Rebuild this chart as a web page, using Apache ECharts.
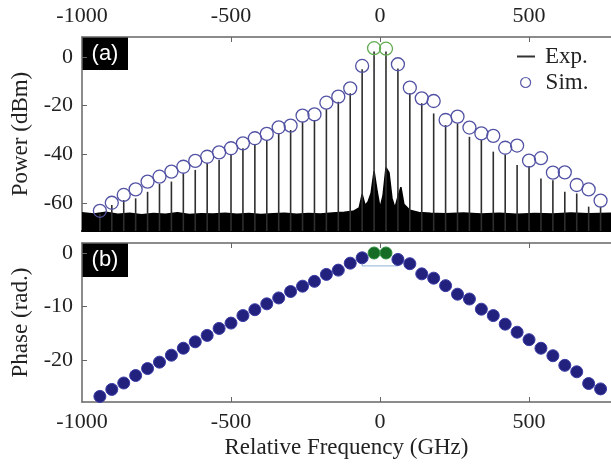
<!DOCTYPE html>
<html>
<head>
<meta charset="utf-8">
<script src="https://cdn.jsdelivr.net/npm/echarts@6/dist/echarts.min.js"></script>
<style>
html,body{margin:0;padding:0;background:#fff;}
#c{width:611px;height:464px;}
</style>
</head>
<body>
<div id="c"></div>
<script>
// ---- data ----
const freqs = [-940,-900,-860,-820,-780,-740,-700,-660,-620,-580,-540,-500,-460,-420,-380,-340,-300,-260,-220,-180,-140,-100,-60,-20,
               20,60,100,140,180,220,260,300,340,380,420,460,500,540,580,620,660,700,740];
const expPower = [-64.5,-60.8,-58.8,-58.1,-55.4,-52.2,-51.2,-47.8,-46.4,-43.7,-42.3,-39.9,-37.5,-36.2,-34.1,-31.4,-30.0,-26.6,-25.9,-21.4,-18.4,-14.9,-5.1,2.2,
                  2.2,-4.7,-14.9,-19.0,-23.2,-28.0,-27.3,-32.8,-34.1,-38.9,-40.3,-44.4,-44.8,-49.9,-50.6,-55.4,-56.1,-61.5,-61.5];
const simPower = [-63.2,-59.9,-56.7,-54.4,-51.2,-49.2,-47.1,-45.1,-42.7,-41.0,-39.2,-37.5,-35.5,-33.4,-31.6,-28.9,-28.2,-24.1,-23.6,-18.8,-16.3,-12.9,-3.7,3.6,
                  3.4,-3.0,-12.6,-17.0,-18.1,-25.9,-24.5,-29.0,-31.4,-32.4,-37.3,-36.4,-42.6,-41.6,-47.5,-47.4,-52.6,-54.4,-59.0];
const phase = [-26.8,-25.5,-24.3,-22.9,-21.6,-20.4,-19.1,-17.8,-16.6,-15.4,-14.1,-13.1,-11.7,-10.6,-9.5,-8.4,-7.2,-6.2,-5.3,-4.0,-3.2,-1.9,-0.9,0.0,
               0.0,-1.2,-2.0,-3.9,-4.7,-6.1,-7.7,-8.6,-10.5,-11.7,-13.3,-14.8,-16.2,-17.8,-19.2,-21.0,-22.2,-24.4,-25.4];
const centerFreqs = [-20, 20];
const noiseFreq  = [-1000,-960,-920,-880,-840,-800,-760,-720,-680,-640,-600,-560,-520,-480,-440,-400,-360,-320,-280,-240,-200,-160,-120,-90,-70,-60,-50,-40,-30,-20,-10,0,10,20,30,40,50,60,70,80,100,130,170,220,280,340,400,460,520,580,640,700,775];
const noiseLevel = [-64.0,-64.5,-63.8,-64.6,-64.2,-64.8,-64.3,-64.6,-64.0,-64.7,-64.4,-64.5,-64.2,-64.6,-64.3,-64.7,-64.4,-64.2,-64.6,-64.3,-64.5,-64.1,-63.8,-63.4,-62.0,-56.5,-61.0,-59.5,-56.0,-47.0,-55.0,-62.0,-57.0,-45.5,-47.5,-58.0,-62.0,-57.5,-53.5,-60.5,-63.0,-63.9,-64.2,-64.4,-64.1,-64.5,-64.2,-64.6,-64.3,-64.5,-64.1,-64.4,-64.2];
const xTicks = [-1000, -500, 0, 500];
const powerTicks = [0, -20, -40, -60];
const phaseTicks = [0, -10, -20];
const bracket = [[-60,-0.9],[-60,-2.4],[60,-2.4],[60,-1.2]];

// ---- build ----
const isCenter = f => centerFreqs.indexOf(f) >= 0;
const expData = freqs.map((f,i)=>[f, expPower[i]]);
const simBlue = [], simGreen = [], phBlue = [], phGreen = [];
freqs.forEach((f,i)=>{
  if (isCenter(f)) { simGreen.push([f, simPower[i]]); phGreen.push([f, phase[i]]); }
  else { simBlue.push([f, simPower[i]]); phBlue.push([f, phase[i]]); }
});
const noiseData = noiseFreq.map((f,i)=>[f, noiseLevel[i]]);

const P_MIN = -71.5, P_MAX = 8.2, PH_MIN = -27.85, PH_MAX = 1.87;
const X_MIN = -1000, X_MAX = 775;
const FONT = 'Liberation Serif';
const axisLineStyle = {color:'#666', width:1.5};
const fmt = v => String(v);
const labelStyle = {fontFamily:FONT, fontSize:22, color:'#222', formatter:fmt};

const chart = echarts.init(document.getElementById('c'), null, {renderer:'canvas'});
chart.setOption({
  animation:false,
  backgroundColor:'#fff',
  grid:[
    {left:82, top:37, width:529, height:194},
    {left:82, top:243, width:529, height:159}
  ],
  xAxis:[
    {gridIndex:0, type:'value', position:'top', min:X_MIN, max:X_MAX,
     axisLine:{show:true, onZero:false, lineStyle:axisLineStyle},
     axisTick:{show:true, inside:true, length:5, customValues:[-500,0,500], lineStyle:{color:'#666'}},
     axisLabel:{show:true, customValues:xTicks, margin:10, ...labelStyle},
     splitLine:{show:false}},
    {gridIndex:0, type:'value', position:'bottom', min:X_MIN, max:X_MAX,
     axisLine:{show:true, onZero:false, lineStyle:{color:'#000', width:2}},
     axisTick:{show:false}, axisLabel:{show:false}, splitLine:{show:false}},
    {gridIndex:1, type:'value', position:'bottom', min:X_MIN, max:X_MAX,
     name:'Relative Frequency (GHz)', nameLocation:'middle', nameGap:34,
     nameTextStyle:{fontFamily:FONT, fontSize:23, color:'#222'},
     axisLine:{show:true, onZero:false, lineStyle:axisLineStyle},
     axisTick:{show:true, inside:true, length:5, customValues:[-500,0,500], lineStyle:{color:'#666'}},
     axisLabel:{show:true, customValues:xTicks, margin:9, ...labelStyle},
     splitLine:{show:false}},
    {gridIndex:1, type:'value', position:'top', min:X_MIN, max:X_MAX,
     axisLine:{show:true, onZero:false, lineStyle:axisLineStyle},
     axisTick:{show:true, inside:true, length:5, customValues:[-500,0,500], lineStyle:{color:'#666'}},
     axisLabel:{show:false}, splitLine:{show:false}}
  ],
  yAxis:[
    {gridIndex:0, type:'value', min:P_MIN, max:P_MAX,
     name:'Power (dBm)', nameLocation:'middle', nameGap:46, nameRotate:90,
     nameTextStyle:{fontFamily:FONT, fontSize:23, color:'#222'},
     axisLine:{show:true, onZero:false, lineStyle:axisLineStyle},
     axisTick:{show:true, inside:true, length:5, customValues:powerTicks, lineStyle:{color:'#666'}},
     axisLabel:{show:true, customValues:powerTicks, margin:9, ...labelStyle},
     splitLine:{show:false}},
    {gridIndex:1, type:'value', min:PH_MIN, max:PH_MAX,
     name:'Phase (rad.)', nameLocation:'middle', nameGap:46, nameRotate:90,
     nameTextStyle:{fontFamily:FONT, fontSize:23, color:'#222'},
     axisLine:{show:true, onZero:false, lineStyle:axisLineStyle},
     axisTick:{show:true, inside:true, length:5, customValues:phaseTicks, lineStyle:{color:'#666'}},
     axisLabel:{show:true, customValues:phaseTicks, margin:9, ...labelStyle},
     splitLine:{show:false}}
  ],
  legend:[
    {left:517, top:45, padding:0, itemWidth:18, itemHeight:2, selectedMode:false,
     data:[{name:'Exp.', icon:'rect', itemStyle:{color:'#333'}}],
     textStyle:{fontFamily:FONT, fontSize:23, color:'#222', padding:[0,0,0,5]}},
    {left:520, top:71, padding:0, itemWidth:10, itemHeight:10, selectedMode:false,
     data:[{name:'Sim.', icon:'circle', itemStyle:{color:'#fff', borderColor:'#5a5aa8', borderWidth:1.2, opacity:1}}],
     textStyle:{fontFamily:FONT, fontSize:23, color:'#222', padding:[0,0,0,10]}}
  ],
  graphic:[
    {type:'group', left:82, top:37, children:[
      {type:'rect', shape:{x:0,y:0,width:46,height:33}, style:{fill:'#000'}},
      {type:'text', x:23, y:17, style:{text:'(a)', fill:'#fff', font:'22px "Liberation Sans"', align:'center', verticalAlign:'middle'}}
    ]},
    {type:'group', left:82, top:243, children:[
      {type:'rect', shape:{x:0,y:0,width:46,height:34}, style:{fill:'#000'}},
      {type:'text', x:23, y:17, style:{text:'(b)', fill:'#fff', font:'22px "Liberation Sans"', align:'center', verticalAlign:'middle'}}
    ]}
  ],
  series:[
    {name:'noise', type:'line', xAxisIndex:0, yAxisIndex:0, data:noiseData,
     symbol:'none', lineStyle:{color:'#000', width:1.5},
     areaStyle:{color:'#000', opacity:1, origin:'start'}, z:1, silent:true},
    {name:'Exp.', type:'custom', xAxisIndex:0, yAxisIndex:0, data:expData,
     itemStyle:{color:'#333'}, z:2,
     renderItem:function(params, api){
       const p1 = api.coord([api.value(0), P_MIN]);
       const p2 = api.coord([api.value(0), api.value(1)]);
       return {type:'line', shape:{x1:p1[0], y1:p1[1], x2:p2[0], y2:p2[1]},
               style:{stroke:'#2e2e2e', lineWidth:1.6}};
     }},
    {name:'Sim.', type:'scatter', xAxisIndex:0, yAxisIndex:0, data:simBlue,
     symbol:'circle', symbolSize:13, z:3,
     itemStyle:{color:'rgba(255,255,255,0)', borderColor:'#5252a4', borderWidth:1.3, opacity:1}},
    {name:'SimC', type:'scatter', xAxisIndex:0, yAxisIndex:0, data:simGreen,
     symbol:'circle', symbolSize:13, z:3,
     itemStyle:{color:'rgba(255,255,255,0)', borderColor:'#62ad52', borderWidth:1.3, opacity:1}},
    {name:'bracket', type:'line', xAxisIndex:2, yAxisIndex:1, data:bracket,
     symbol:'none', lineStyle:{color:'#a9c2e0', width:1.2}, z:2, silent:true},
    {name:'Phase', type:'scatter', xAxisIndex:2, yAxisIndex:1, data:phBlue,
     symbol:'circle', symbolSize:12, z:3,
     itemStyle:{color:'#22227e', borderColor:'#3a3aa6', borderWidth:1, opacity:1}},
    {name:'PhaseC', type:'scatter', xAxisIndex:2, yAxisIndex:1, data:phGreen,
     symbol:'circle', symbolSize:12, z:3,
     itemStyle:{color:'#156c24', borderColor:'#2f8f3f', borderWidth:1, opacity:1}}
  ]
});
</script>
</body>
</html>
